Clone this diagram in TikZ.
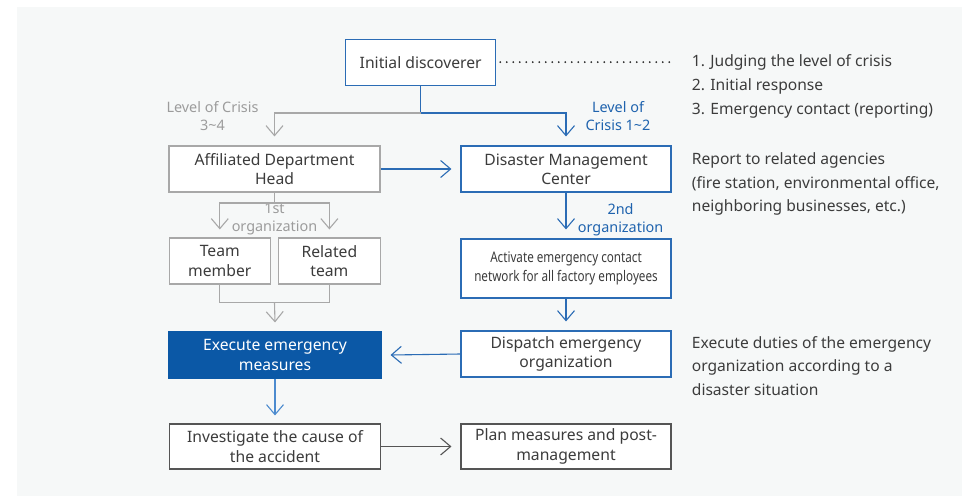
\documentclass[tikz,border=0pt]{standalone}
\usepackage{fontspec}
\setmainfont{Noto Sans}
\newfontfamily\condfont[FakeStretch=0.8]{Noto Sans}
\usetikzlibrary{arrows.meta}
\definecolor{bgc}{HTML}{F6F8F8}
\definecolor{bluec}{HTML}{2B6CB5}
\definecolor{bluet}{HTML}{1F63AE}
\definecolor{fillb}{HTML}{0B58A6}
\definecolor{greyc}{HTML}{A8A8A8}
\definecolor{greyt}{HTML}{9C9C9C}
\definecolor{darkc}{HTML}{555555}
\definecolor{txt}{HTML}{3C3C3C}
\definecolor{lblue}{HTML}{4C8BCF}
\tikzset{
  box/.style={draw, line width=1.1pt, fill=white, inner sep=0pt, align=center,
    text=txt, font=\fontsize{15.7}{19.3}\selectfont},
  bluebox/.style={box, draw=bluec},
  greybox/.style={box, draw=greyc},
  darkbox/.style={box, draw=darkc},
  lab/.style={align=center, inner sep=0pt, font=\fontsize{14.4}{18}\selectfont},
  side/.style={align=left, inner sep=0pt, anchor=west, text=txt,
    font=\fontsize{15.6}{23.8}\selectfont},
  conn/.style={line width=1.1pt},
  arr/.style={conn, -{Straight Barb[length=10pt,width=17pt,line width=1.1pt]}},
}
\begin{document}
\begin{tikzpicture}[x=1pt,y=-1pt]
\useasboundingbox (0,0) rectangle (970,496);
\fill[bgc] (17,7) rectangle (962,496);

% boxes
\node[bluebox, minimum width=150pt, minimum height=46pt] (init) at (420.7,62.2) {Initial discoverer};
\node[greybox, minimum width=211pt, minimum height=46pt] (aff) at (274.5,169) {Affiliated Department\\Head};
\node[bluebox, minimum width=210pt, minimum height=46pt] (dmc) at (566,169) {Disaster Management\\Center};
\node[greybox, minimum width=101.5pt, minimum height=46pt] (team) at (219.8,261) {Team\\member};
\node[greybox, minimum width=101.5pt, minimum height=46pt] (rel) at (329.4,261) {Related\\team};
\node[bluebox, minimum width=210pt, minimum height=59pt, font=\condfont\fontsize{14.6}{18.3}\selectfont] (act) at (566,268.5) {Activate emergency contact\\network for all factory employees};
\node[box, draw=fillb, fill=fillb, text=white, minimum width=212pt, minimum height=46pt] (exe) at (275,355) {Execute emergency\\measures};
\node[bluebox, minimum width=210pt, minimum height=46pt] (disp) at (566,354) {Dispatch emergency\\organization};
\node[darkbox, minimum width=211pt, minimum height=45pt] (inv) at (275,446.5) {Investigate the cause of\\the accident};
\node[darkbox, minimum width=210pt, minimum height=45pt] (plan) at (566,446.5) {Plan measures and post-\\management};

% labels
\node[lab, text=greyt] (l34) at (212.5,116) {Level of Crisis\\3\textasciitilde4};
\node[lab, text=bluet] (l12) at (618,116) {Level of\\Crisis 1\textasciitilde2};
\node[lab, text=greyt] (l1st) at (274.5,219.5) {1st\\organization};
\node[lab, text=bluet] (l2nd) at (620.6,219.5) {2nd\\organization};

% side texts
\node[side] (s1) at (691.7,86.5) {1. Judging the level of crisis\\2. Initial response\\3. Emergency contact (reporting)};
\node[side] (s2) at (691.7,184) {Report to related agencies\\(fire station, environmental office,\\neighboring businesses, etc.)};
\node[side] (s3) at (691.7,366) {Execute duties of the emergency\\organization according to a\\disaster situation};

% dotted leader
\coordinate (dotend) at (673,62.2);
\draw[line width=2pt, line cap=round, dash pattern=on 0pt off 6.5pt, black!85] ([xshift=4pt]init.east) -- (dotend);

% connectors
\coordinate (j1) at (420.7,113);
\draw[conn, bluec] (init.south) -- (j1);
\draw[arr, bluec] (j1) -| ([yshift=9pt]dmc.north);
\draw[arr, greyc] (j1) -| ([yshift=9pt]aff.north);

\draw[arr, bluec] (aff.east) -- ([xshift=-9pt]dmc.west);

\coordinate (j2) at (274.5,203);
\draw[conn, greyc] (aff.south) -- (j2);
\draw[arr, greyc] (j2) -| ([yshift=8pt]team.north);
\draw[arr, greyc] (j2) -| ([yshift=8pt]rel.north);

\draw[arr, bluec] (dmc.south) -- ([yshift=9pt]act.north);

\coordinate (j3) at (274.5,302.7);
\draw[conn, greyc] (team.south) |- (j3);
\draw[conn, greyc] (rel.south) |- (j3);
\draw[arr, greyc] (j3) -- ([yshift=9pt]exe.north);

\draw[arr, bluec] (act.south) -- ([yshift=9pt]disp.north);
\draw[arr, bluec] (disp.west) -- ([xshift=9pt]exe.east);
\draw[arr, lblue] (exe.south) -- ([yshift=8pt]inv.north);
\draw[arr, darkc] (inv.east) -- ([xshift=-9pt]plan.west);
\end{tikzpicture}
\end{document}
